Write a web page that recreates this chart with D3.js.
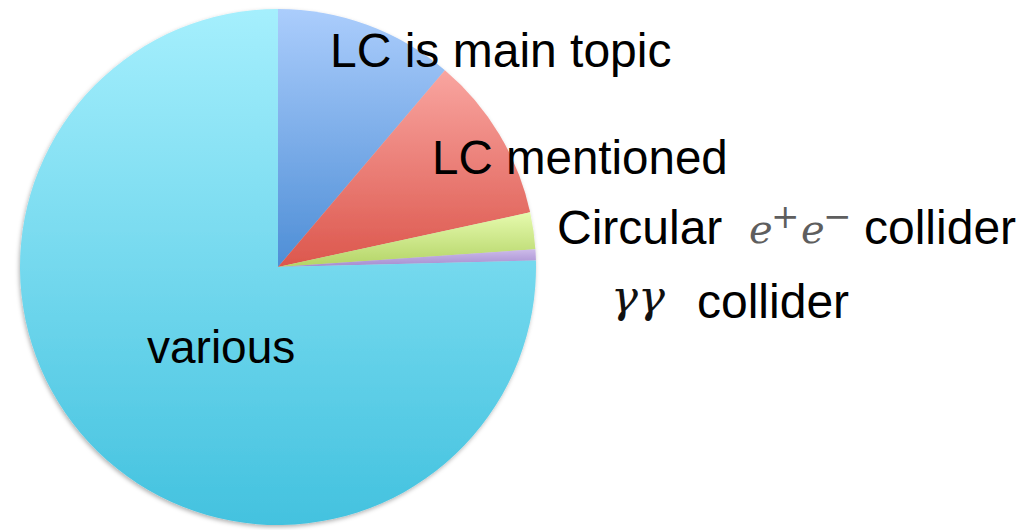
<!DOCTYPE html>
<html>
<head>
<meta charset="utf-8">
<script src="https://cdn.jsdelivr.net/npm/d3@7"></script>
<style>
  html, body { margin: 0; padding: 0; background: #fff; }
  svg { display: block; }
</style>
</head>
<body>
<div id="chart"></div>
<script>
// slice shares (percent, clockwise from 12 o'clock)
const categories = ["LC is main topic", "LC mentioned", "Circular e+e- collider", "gamma gamma collider", "various"];
const shares = [11.2, 10.4, 2.3, 0.7, 75.4];
const topColors = ["#abcdfc", "#f9a5a0", "#e6faae", "#cdbbea", "#a5effd"];
const bottomColors = ["#4e8ed6", "#dc574d", "#b3d466", "#a48ccf", "#43c2df"];

const width = 1029, height = 530;
const cx = 278, cy = 267, radius = 258;

const svg = d3.select("#chart").append("svg")
  .attr("width", width)
  .attr("height", height);

const defs = svg.append("defs");

const shadow = defs.append("filter")
  .attr("id", "shadow")
  .attr("x", "-10%").attr("y", "-10%")
  .attr("width", "120%").attr("height", "120%");
shadow.append("feDropShadow")
  .attr("dx", -1).attr("dy", 2)
  .attr("stdDeviation", 2)
  .attr("flood-color", "#000")
  .attr("flood-opacity", 0.3);

categories.forEach(function (c, i) {
  const g = defs.append("linearGradient")
    .attr("id", "grad" + i)
    .attr("x1", 0).attr("y1", 0)
    .attr("x2", 0).attr("y2", 1);
  g.append("stop").attr("offset", "0%").attr("stop-color", topColors[i]);
  g.append("stop").attr("offset", "100%").attr("stop-color", bottomColors[i]);
});

const pie = d3.pie().sort(null).value(d => d);
const arc = d3.arc().innerRadius(0).outerRadius(radius);

const g = svg.append("g")
  .attr("transform", "translate(" + cx + "," + cy + ")")
  .attr("filter", "url(#shadow)");

g.selectAll("path")
  .data(pie(shares))
  .enter().append("path")
  .attr("d", arc)
  .attr("fill", (d, i) => "url(#grad" + i + ")");

// labels
const sans = "'Liberation Sans', Arial, sans-serif";
const serif = "'DejaVu Serif', 'Liberation Serif', serif";

function label(x, y, txt, size) {
  return svg.append("text")
    .attr("x", x).attr("y", y)
    .attr("font-family", sans)
    .attr("font-size", size || 48)
    .attr("fill", "#000")
    .text(txt);
}

label(330, 67, "LC is main topic");
label(432, 174, "LC mentioned", 47.5);
label(557, 244, "Circular");
label(864, 244, "collider");
label(697, 318, "collider");
label(147, 363, "various", 46);

// e+e- in math italic, greyish like a pasted formula image
const ee = svg.append("text")
  .attr("y", 243)
  .attr("font-family", serif)
  .attr("font-size", 40)
  .attr("fill", "#5e5e5e");
ee.append("tspan").attr("x", 749).attr("font-style", "italic").text("e");
ee.append("tspan").attr("x", 771).attr("dy", -15).attr("font-size", 34).text("+");
ee.append("tspan").attr("x", 801).attr("dy", 15).attr("font-style", "italic").text("e");
ee.append("tspan").attr("x", 823).attr("dy", -15).attr("font-size", 34).text("\u2212");

svg.append("text")
  .attr("x", 611).attr("y", 312)
  .attr("font-family", serif)
  .attr("font-style", "italic")
  .attr("font-size", 45)
  .attr("fill", "#111")
  .text("\u03b3\u03b3");
</script>
</body>
</html>
